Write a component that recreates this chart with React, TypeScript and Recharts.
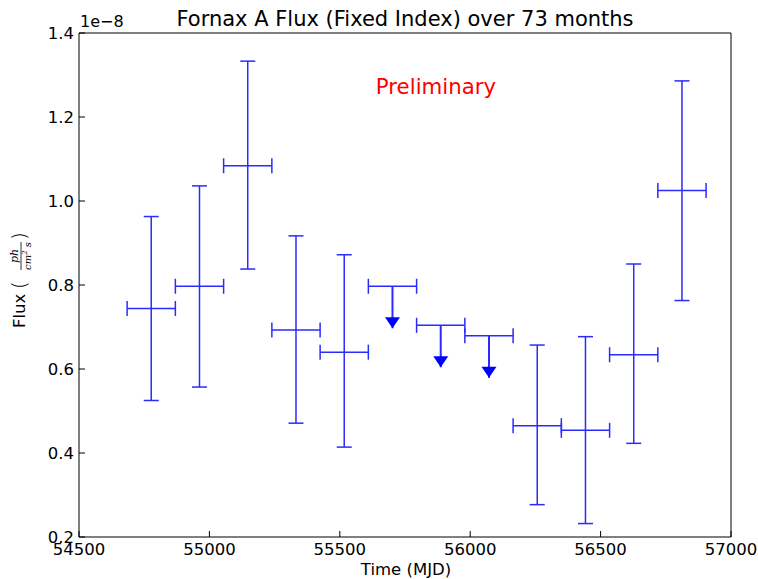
import React from "react";
import { ErrorBar, Scatter, ScatterChart, XAxis, YAxis } from "recharts";

// Monthly-binned light curve, flux in units of 1e-8 ph cm^-2 s^-1.
const binHalfWidth = 92.5; // days

const detTimes = [54777, 54962, 55147, 55332, 55517, 56257, 56442, 56627, 56812];
const detFlux = [0.744, 0.797, 1.084, 0.693, 0.64, 0.465, 0.454, 0.634, 1.025];
const detLow = [0.525, 0.557, 0.838, 0.471, 0.414, 0.277, 0.232, 0.423, 0.763];
const detHigh = [0.963, 1.036, 1.333, 0.917, 0.872, 0.657, 0.677, 0.85, 1.286];

// bins with only an upper limit
const ulTimes = [55702, 55887, 56072];
const ulFlux = [0.797, 0.704, 0.679];
const arrowLength = 0.1;

const xTicks = [54500, 55000, 55500, 56000, 56500, 57000];
const yTicks = [0.2, 0.4, 0.6, 0.8, 1.0, 1.2, 1.4];

const detections = detTimes.map((t, i) => ({
  t,
  flux: detFlux[i],
  tErr: binHalfWidth,
  fluxErr: [detFlux[i] - detLow[i], detHigh[i] - detFlux[i]],
}));

const limits = ulTimes.map((t, i) => ({
  t,
  flux: ulFlux[i],
  tErr: binHalfWidth,
  drop: [arrowLength, 0],
}));

const arrowTips = ulTimes.map((t, i) => ({ t, flux: ulFlux[i] - arrowLength }));

const BLUE = "#2b2bff";
const FONT = "DejaVu Sans, sans-serif";
const tickStyle = { fill: "#000", fontSize: 16.5, fontFamily: FONT };
const frame = { stroke: "#000", strokeWidth: 1 };

const NoMarker = () => <g />;

const ArrowHead = (props: any) => {
  const { cx, cy } = props;
  return (
    <polygon
      points={`${cx - 7.5},${cy - 11} ${cx + 7.5},${cy - 11} ${cx},${cy}`}
      fill="#0000ff"
    />
  );
};

export default function App() {
  return (
    <div style={{ position: "absolute", left: 0, top: 0, width: 758, height: 579, background: "#fff" }}>
      <ScatterChart width={758} height={579} margin={{ top: 0, right: 0, bottom: 0, left: 0 }}>
        <XAxis
          type="number"
          dataKey="t"
          domain={[54500, 57000]}
          ticks={xTicks}
          interval={0}
          allowDataOverflow
          height={42}
          tickSize={-6}
          tickMargin={12}
          tick={tickStyle}
          axisLine={frame}
          tickLine={frame}
        />
        <XAxis
          xAxisId="top"
          orientation="top"
          type="number"
          dataKey="t"
          domain={[54500, 57000]}
          ticks={xTicks}
          interval={0}
          allowDataOverflow
          height={33}
          tickSize={-6}
          tick={false}
          axisLine={frame}
          tickLine={frame}
        />
        <YAxis
          type="number"
          dataKey="flux"
          domain={[0.2, 1.4]}
          ticks={yTicks}
          interval={0}
          allowDataOverflow
          width={79}
          tickSize={-6}
          tickMargin={11}
          tick={tickStyle}
          tickFormatter={(v) => Number(v).toFixed(1)}
          axisLine={frame}
          tickLine={frame}
        />
        <YAxis
          yAxisId="right"
          orientation="right"
          type="number"
          dataKey="flux"
          domain={[0.2, 1.4]}
          ticks={yTicks}
          interval={0}
          allowDataOverflow
          width={27}
          tickSize={-6}
          tick={false}
          axisLine={frame}
          tickLine={frame}
        />
        <Scatter data={detections} shape={NoMarker} isAnimationActive={false}>
          <ErrorBar dataKey="fluxErr" direction="y" width={7.5} stroke={BLUE} strokeWidth={1.5} />
          <ErrorBar dataKey="tErr" direction="x" width={7.5} stroke={BLUE} strokeWidth={1.5} />
        </Scatter>
        <Scatter data={limits} shape={NoMarker} isAnimationActive={false}>
          <ErrorBar dataKey="drop" direction="y" width={0} stroke={BLUE} strokeWidth={2} />
          <ErrorBar dataKey="tErr" direction="x" width={7.5} stroke={BLUE} strokeWidth={1.5} />
        </Scatter>
        <Scatter data={arrowTips} shape={ArrowHead} isAnimationActive={false} />
      </ScatterChart>

      <svg
        width={758}
        height={579}
        style={{ position: "absolute", left: 0, top: 0, pointerEvents: "none" }}
        fontFamily={FONT}
      >
        <text x={405} y={26} fontSize={21} textAnchor="middle" fill="#000">
          Fornax A Flux (Fixed Index) over 73 months
        </text>
        <text x={80} y={27} fontSize={16} fill="#000">
          1e−8
        </text>
        <text x={436} y={94} fontSize={21.3} textAnchor="middle" fill="#ff0000">
          Preliminary
        </text>
        <text x={406} y={575} fontSize={16.5} textAnchor="middle" fill="#000">
          Time (MJD)
        </text>
        <g transform="translate(25,281) rotate(-90)" fill="#000">
          <text x={-47} y={0} fontSize={16.5}>
            Flux
          </text>
          <text x={-8} y={1} fontSize={20} fontWeight={300}>
            (
          </text>
          <text x={25} y={-7.5} fontSize={11} fontStyle="italic" fontFamily="DejaVu Serif" textAnchor="middle">
            ph
          </text>
          <line x1={11} x2={39} y1={-4} y2={-4} stroke="#000" strokeWidth={0.8} />
          <text x={25} y={6} fontSize={10} fontStyle="italic" fontFamily="DejaVu Serif" textAnchor="middle">
            cm
            <tspan dy={-4.5} fontSize={7}>
              2
            </tspan>
            <tspan dy={4.5}> s</tspan>
          </text>
          <text x={41} y={1} fontSize={20} fontWeight={300}>
            )
          </text>
        </g>
      </svg>
    </div>
  );
}
